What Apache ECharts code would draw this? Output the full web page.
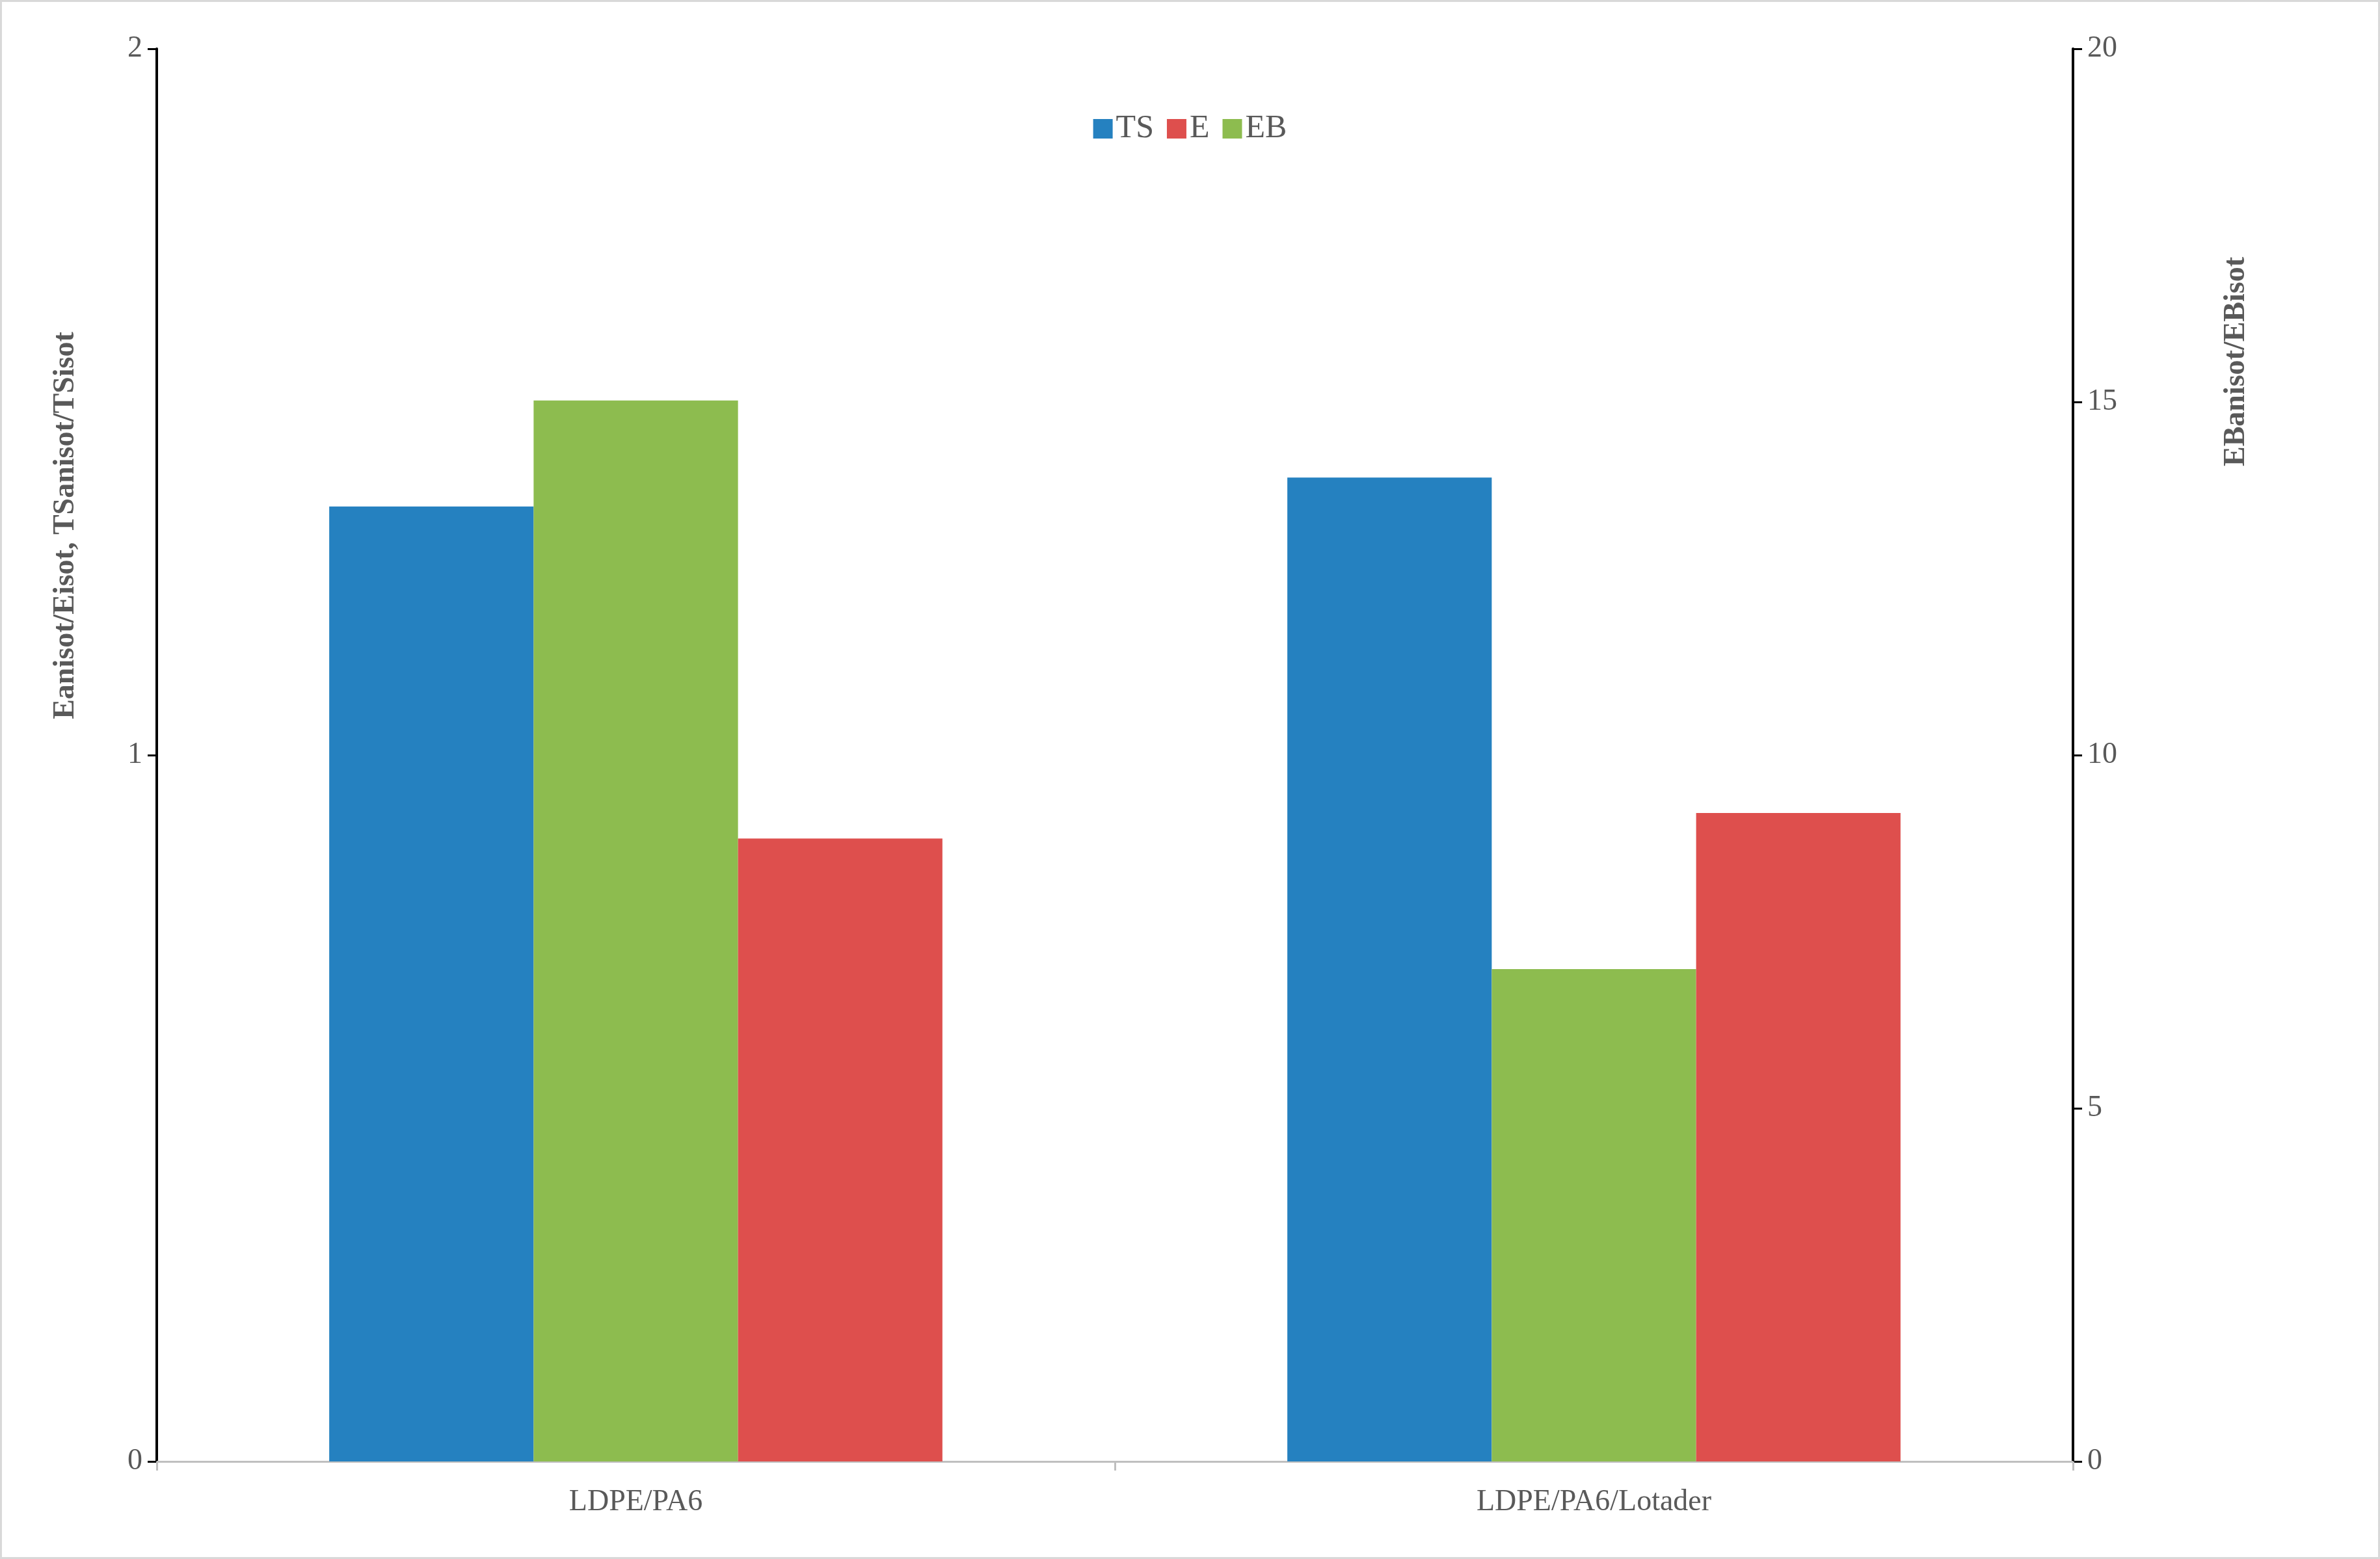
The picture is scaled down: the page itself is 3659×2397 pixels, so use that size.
<!DOCTYPE html>
<html>
<head>
<meta charset="utf-8">
<script src="https://cdn.jsdelivr.net/npm/echarts@6/dist/echarts.min.js"></script>
<style>
html,body{margin:0;padding:0;background:#fff}
#main{width:3659px;height:2397px;box-sizing:border-box;border:3px solid #d9d9d9}
</style>
</head>
<body>
<div id="main"></div>
<script>
var categories = ['LDPE/PA6', 'LDPE/PA6/Lotader']
var tsValues = [1.352, 1.393]
var ebValues = [15.02, 6.97]
var eValues = [0.882, 0.918]
var legendOrder = ['TS', 'E', 'EB']

var font = 'Liberation Serif'
var myChart = echarts.init(document.getElementById('main'))

var option = {
    textStyle: { fontFamily: font },
    legend: {
        data: legendOrder,
        top: 165,
        left: 'center',
        itemWidth: 30,
        itemHeight: 30,
        itemGap: 20,
        icon: 'rect',
        textStyle: { fontFamily: font, fontSize: 50, color: '#595959' }
    },
    grid: { left: 238, right: 469, top: 72, bottom: 147, containLabel: false },
    xAxis: {
        type: 'category',
        data: categories,
        axisLine: { lineStyle: { color: '#bfbfbf', width: 3 } },
        axisTick: { show: true, length: 14, lineStyle: { color: '#bfbfbf', width: 3 } },
        axisLabel: { fontSize: 46, color: '#595959', margin: 40, fontFamily: font }
    },
    yAxis: [{
        type: 'value', min: 0, max: 2, interval: 1, position: 'left',
        splitLine: { show: false },
        axisLine: { show: true, lineStyle: { color: '#000', width: 4 } },
        axisTick: { show: true, length: 14, lineStyle: { color: '#000', width: 3 } },
        axisLabel: { fontSize: 46, color: '#595959', margin: 22, fontFamily: font }
    }, {
        type: 'value', min: 0, max: 20, interval: 5, position: 'right',
        splitLine: { show: false },
        axisLine: { show: true, lineStyle: { color: '#000', width: 4 } },
        axisTick: { show: true, length: 14, lineStyle: { color: '#000', width: 3 } },
        axisLabel: { fontSize: 46, color: '#595959', margin: 22, fontFamily: font }
    }],
    graphic: [{
        type: 'text', x: 98, y: 805, rotation: Math.PI / 2,
        style: { text: 'Eanisot/Eisot, TSanisot/TSisot', fontFamily: font, fontSize: 46,
                 fontWeight: 'bold', fill: '#595959', align: 'center', verticalAlign: 'middle' }
    }, {
        type: 'text', x: 3435, y: 553, rotation: Math.PI / 2,
        style: { text: 'EBanisot/EBisot', fontFamily: font, fontSize: 46,
                 fontWeight: 'bold', fill: '#595959', align: 'center', verticalAlign: 'middle' }
    }],
    series: [{
        name: 'TS', type: 'bar', yAxisIndex: 0, data: tsValues,
        barGap: '0%', barCategoryGap: '36%', itemStyle: { color: '#2581c0' }
    }, {
        name: 'EB', type: 'bar', yAxisIndex: 1, data: ebValues,
        barGap: '0%', barCategoryGap: '36%', itemStyle: { color: '#8dbc4f' }
    }, {
        name: 'E', type: 'bar', yAxisIndex: 0, data: eValues,
        barGap: '0%', barCategoryGap: '36%', itemStyle: { color: '#de4f4d' }
    }]
}

myChart.setOption(option)
</script>
</body>
</html>
